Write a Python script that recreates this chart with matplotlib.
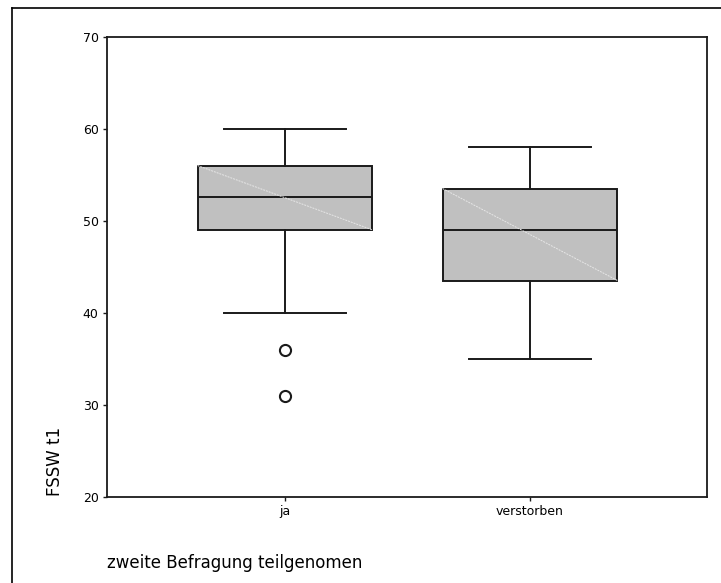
import matplotlib.pyplot as plt
from matplotlib.lines import Line2D

# Box statistics
groups = ["ja", "verstorben"]
whisker_low = [40, 35]
q1 = [49, 43.5]
median = [52.6, 49]
q3 = [56, 53.5]
whisker_high = [60, 58]
outliers = [[36, 31], []]

y_ticks = [20, 30, 40, 50, 60, 70]


def main() -> None:
    plt.rcParams["font.family"] = ["DejaVu Sans"]
    fig = plt.figure(figsize=(7.21, 5.83), dpi=100)
    ax = fig.add_axes([0.1484, 0.148, 0.8322, 0.789])

    stats = [
        {"label": g, "whislo": lo, "q1": a, "med": m, "q3": b, "whishi": hi, "fliers": fl}
        for g, lo, a, m, b, hi, fl in zip(groups, whisker_low, q1, median, q3, whisker_high, outliers)
    ]
    positions = [1, 2]
    width = 0.714
    ax.bxp(
        stats,
        positions=positions,
        widths=width,
        patch_artist=True,
        boxprops=dict(facecolor="#c0c0c0", edgecolor="#1a1a1a", linewidth=1.4),
        medianprops=dict(color="#1a1a1a", linewidth=1.4),
        whiskerprops=dict(color="#1a1a1a", linewidth=1.4),
        capprops=dict(color="#1a1a1a", linewidth=1.4),
        capwidths=0.5,
        flierprops=dict(marker="o", markerfacecolor="white", markeredgecolor="#1a1a1a",
                        markersize=8, markeredgewidth=1.5),
    )
    # faint diagonal artefact inside the boxes
    for pos, a, b in zip(positions, q1, q3):
        ax.plot([pos - width / 2, pos + width / 2], [b, a], color="#e6e6e6",
                linewidth=0.7, linestyle=(0, (2, 1)), zorder=3)

    ax.set_xlim(0.2735, 2.7224)
    ax.set_ylim(20, 70)
    ax.set_yticks(y_ticks)
    ax.set_xticks(positions)
    ax.set_xticklabels(groups)
    ax.tick_params(axis="both", labelsize=9, length=3, width=1, color="#1a1a1a", pad=3)
    for spine in ax.spines.values():
        spine.set_linewidth(1.3)
        spine.set_color("#1a1a1a")

    fig.text(55 / 721, 1 - 496 / 583, "FSSW t1", rotation=90, fontsize=12,
             ha="center", va="bottom")
    fig.text(107 / 721, 1 - 563 / 583, "zweite Befragung teilgenomen", fontsize=12,
             ha="left", va="center")

    # outer frame (left and top edges visible)
    x0, y0 = 11.7 / 721, 1 - 8.3 / 583
    fig.add_artist(Line2D([x0, x0], [0, y0], transform=fig.transFigure, color="black", linewidth=1.2))
    fig.add_artist(Line2D([x0, 1], [y0, y0], transform=fig.transFigure, color="black", linewidth=1.2))

    fig.savefig("out.png", dpi=100)
    plt.close(fig)


if __name__ == "__main__":
    main()
